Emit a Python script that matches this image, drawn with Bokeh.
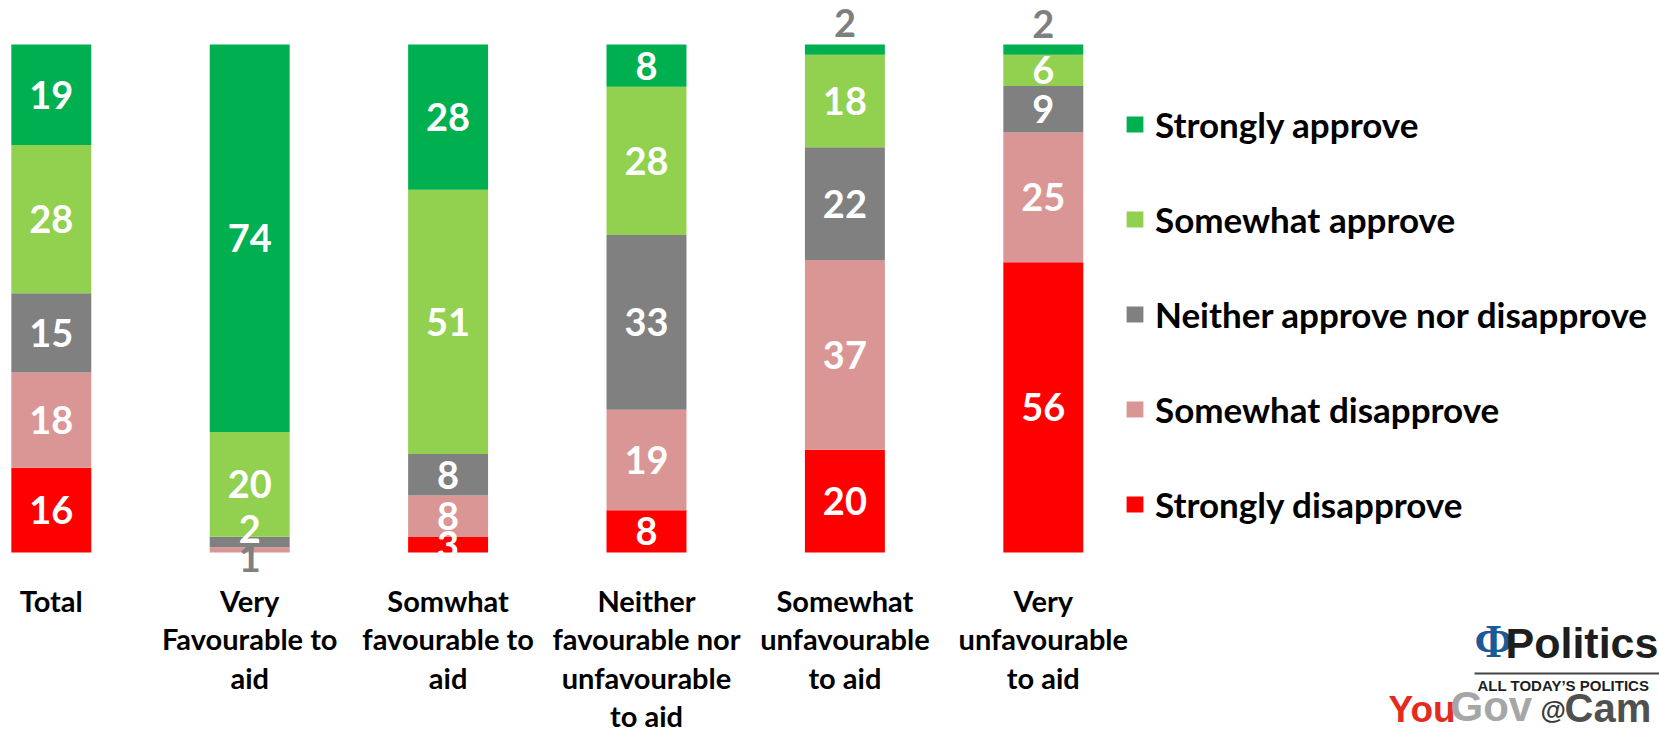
from bokeh.plotting import figure
from bokeh.models import ColumnDataSource, Legend, LegendItem, Label, BoxAnnotation, Range1d
from bokeh.core.properties import value
from bokeh.embed import file_html
from bokeh.resources import INLINE

# ---------------- data ----------------
categories = [
    "Total",
    "Very\nFavourable to\naid",
    "Somwhat\nfavourable to\naid",
    "Neither\nfavourable nor\nunfavourable\nto aid",
    "Somewhat\nunfavourable\nto aid",
    "Very\nunfavourable\nto aid",
]
series_names = [
    "Strongly approve",
    "Somewhat approve",
    "Neither approve nor disapprove",
    "Somewhat disapprove",
    "Strongly disapprove",
]
strongly_approve = [19, 74, 28, 8, 2, 2]
somewhat_approve = [28, 20, 51, 28, 18, 6]
neither = [15, 2, 8, 33, 22, 9]
somewhat_disapprove = [18, 1, 8, 19, 37, 25]
strongly_disapprove = [16, 0, 3, 8, 20, 56]

series_values = [strongly_approve, somewhat_approve, neither,
                 somewhat_disapprove, strongly_disapprove]
colors = ["#00B050", "#92D050", "#808080", "#DA9694", "#FF0000"]

# ---------------- styling ----------------
FONT = "Lato"
W, H = 1659, 730
x_per_unit = 198.4
y_per_unit = 5.08
x0_px = 50.8          # centre of first bar from left of canvas
y_top_px = 44.0       # top of bars (100 %) from top of canvas
bar_width = 0.403

x_start = -x0_px / x_per_unit
x_end = x_start + W / x_per_unit
y_end = 100 + y_top_px / y_per_unit
y_start = y_end - H / y_per_unit

p = figure(width=W, height=H, x_range=Range1d(x_start, x_end),
           y_range=Range1d(y_start, y_end), output_backend="svg",
           toolbar_location=None, x_axis_location=None, y_axis_location=None,
           min_border=0, outline_line_color=None)
p.grid.visible = False
p.background_fill_color = "white"
p.border_fill_color = "white"

n = len(categories)
xs = list(range(n))
totals = [sum(s[i] for s in series_values) for i in range(n)]

# stack from bottom (strongly disapprove) to top (strongly approve), 100 % bars
order = list(range(len(series_values)))[::-1]
bottoms = [0.0] * n
renderers = {}
seg_bounds = {}
for si in order:
    vals = series_values[si]
    shares = [vals[i] / totals[i] * 100 for i in range(n)]
    tops = [bottoms[i] + shares[i] for i in range(n)]
    src = ColumnDataSource(dict(x=xs, bottom=list(bottoms), top=tops))
    r = p.vbar(x="x", bottom="bottom", top="top", width=bar_width, source=src,
               fill_color=colors[si], line_color=None)
    renderers[si] = r
    for i in range(n):
        seg_bounds[(i, si)] = (bottoms[i], tops[i])
    bottoms = tops

# value labels: white in the middle of each segment; a few tiny ones moved
label_style = {
    (1, 3): ("#7F7F7F", 8),
    (1, 2): ("white", -13),
    (4, 0): ("#7F7F7F", -27),
    (5, 0): ("#7F7F7F", -26),
}
lx, ly, lt, lc, lo = [], [], [], [], []
for si in range(len(series_values)):
    for i in range(n):
        v = series_values[si][i]
        if v == 0:
            continue
        b, t = seg_bounds[(i, si)]
        col, off = label_style.get((i, si), ("white", 0))
        lx.append(i)
        ly.append((b + t) / 2)
        lt.append(str(v))
        lc.append(col)
        lo.append(off)
lsrc = ColumnDataSource(dict(x=lx, y=ly, text=lt, color=lc, off=lo))
p.text(x="x", y="y", text="text", source=lsrc, text_color="color",
       y_offset="off", text_align="center", text_baseline="middle",
       text_font=value(FONT), text_font_style="bold", text_font_size="38px")

# category labels under the bars
csrc = ColumnDataSource(dict(x=xs, y=[0] * n, text=categories))
p.text(x="x", y="y", text="text", source=csrc, y_offset=30,
       text_align="center", text_baseline="top", text_color="black",
       text_font=value(FONT), text_font_style="bold", text_font_size="29px",
       text_line_height=1.1)

# legend
items = [LegendItem(label=series_names[si], renderers=[renderers[si]])
         for si in range(len(series_values))]
legend = Legend(items=items, location=(1124, 205), orientation="vertical",
                glyph_width=21, glyph_height=20, label_standoff=10,
                label_height=20, spacing=53, padding=0, margin=0,
                border_line_color=None, background_fill_alpha=0,
                label_text_font=FONT, label_text_font_style="bold",
                label_text_font_size="35px", label_text_color="black")
p.add_layout(legend, "center")

# logos (bottom-right)
p.add_layout(Label(x=1474, y=64, x_units="screen", y_units="screen", text="Φ",
                   text_font="Liberation Serif", text_font_style="bold",
                   text_font_size="46px", text_color="#1B5A97"))
p.add_layout(Label(x=1505, y=64, x_units="screen", y_units="screen", text="Politics",
                   text_font="Liberation Sans", text_font_style="bold",
                   text_font_size="43px", text_color="#1E1E1E"))
p.add_layout(BoxAnnotation(left=1474, right=1659, bottom=56, top=58,
                           left_units="screen", right_units="screen",
                           bottom_units="screen", top_units="screen",
                           fill_color="#444444", fill_alpha=1, line_color=None))
p.add_layout(Label(x=1477, y=37, x_units="screen", y_units="screen",
                   text="ALL TODAY’S POLITICS",
                   text_font="Liberation Sans", text_font_style="bold",
                   text_font_size="15px", text_color="#1E1E1E"))
for txt, xx, col, fs, yy in [("You", 1388, "#E32B1E", "37px", 1),
                             ("Gov", 1450, "#A6A6A6", "42px", 1),
                             ("@", 1540, "#3A3A3A", "26px", 6),
                             ("Cam", 1564, "#505050", "40px", 1)]:
    p.add_layout(Label(x=xx, y=yy, x_units="screen", y_units="screen", text=txt,
                       text_font="Liberation Sans", text_font_style="bold",
                       text_font_size=fs, text_color=col))

open("out.html", "w").write(file_html(p, INLINE))
